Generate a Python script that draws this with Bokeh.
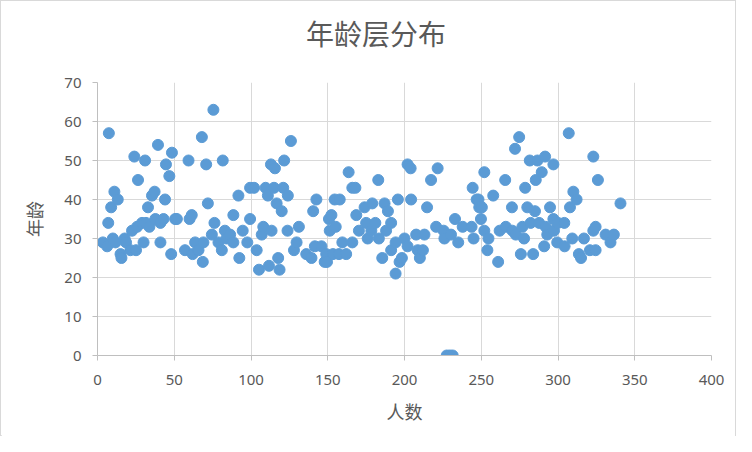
from bokeh.plotting import figure
from bokeh.models import ColumnDataSource, FixedTicker, Range1d, Div
from bokeh.layouts import column
from bokeh.embed import file_html
from bokeh.resources import INLINE

x_people = [3.5, 6.3, 7.4, 7, 8.9, 10, 11.7, 11, 13.2, 15, 15.6, 17.7, 18.6, 21.4, 22.5, 24, 25.1, 25.8, 26.4, 29,
            30, 31, 31.6, 32.9, 33.8, 35.5, 37.2, 37.7, 39.4, 41, 41, 43, 44, 44.6, 46.8, 48, 48.5, 50.6,
            51.7, 57, 59.3, 60, 61.4, 62, 63.6, 65.8, 68, 68.6, 69, 70.8, 71.9, 74.5, 75.5, 76.2, 78.8, 81, 81.6,
            83, 84, 86.4, 88.5, 88.5, 91.8, 92.4, 94.6, 97.6, 99.4, 99.4,
            102, 103.7, 105.2, 107, 108, 109.5, 111, 111.7, 113, 113.4, 115, 115.6, 116.7, 117.7, 118.6, 120, 121,
            121.6, 123.8, 124, 126, 128, 129.7, 131.2, 136, 139.4, 140.5, 141.6, 142.6, 145.9, 148,
            149, 149.5, 150.8, 151.3, 152.4, 153.4, 154.5, 155.2, 157.3, 157.8, 159.5, 162, 163.6, 166, 166, 168,
            168.6, 170.3, 174, 175, 176, 178.4, 179, 181, 182.9, 183.3, 185.5, 187, 188, 189.2, 191.3, 191.3, 194.2,
            194.2, 195.7, 196.8,
            198.3, 200, 202, 202, 204, 204.3, 207.6, 208.6, 210, 212, 213, 214.7, 217.3, 220.6, 221.6, 225.5, 226,
            227.5, 229.5, 230.3, 231.4, 232.9, 235, 237.9, 243.7, 244.4, 245, 247,
            248.2, 248.7, 249.8, 250.4, 252, 252, 254, 254.7, 257.8, 261, 262, 265.6, 266, 270, 270.3, 272, 272.5,
            274.7, 275.8, 276.8, 277.9, 278.6, 280, 281.6, 282.2, 283.8, 285, 285.5, 286.6, 287.7, 289.4, 291,
            291.6, 292, 293,
            294.8, 297, 297, 297.4, 299.5, 300, 304.1, 304.3, 307, 307.8, 309.3, 310, 312.1, 313.6, 315, 316.9,
            320.8, 323, 323, 324.5, 324.5, 326, 331, 334.2, 336.4, 340.7]

y_age = [29, 28, 57, 34, 38, 30, 29, 42, 40, 26, 25, 30, 29, 27, 32, 51, 27, 33, 45, 34,
         29, 50, 34, 38, 33, 41, 42, 35, 54, 34, 29, 35, 40, 49, 46, 26, 52, 35,
         35, 27, 50, 35, 36, 26, 29, 27, 56, 24, 29, 49, 39, 31, 63, 34, 29, 27, 50,
         32, 30, 31, 36, 29, 41, 25, 32, 29, 43, 35,
         43, 27, 22, 31, 33, 43, 41, 23, 49, 32, 43, 48, 39, 25, 22, 37, 43,
         50, 32, 41, 55, 27, 29, 33, 26, 25, 37, 28, 40, 28, 24,
         26, 24, 35, 32, 36, 26, 40, 33, 26, 40, 29, 26, 47, 43, 29, 43,
         36, 32, 38, 34, 30, 32, 39, 34, 45, 30, 25, 39, 32, 37, 34, 27, 29,
         21, 40, 24,
         25, 30, 49, 28, 48, 40, 31, 27, 25, 27, 31, 38, 45, 33, 48, 32, 30,
         0, 0, 31, 0, 35, 29, 33, 33, 43, 30, 40,
         40, 38, 35, 38, 47, 32, 27, 30, 41, 24, 32, 45, 33, 38, 32, 53, 31,
         56, 26, 33, 30, 43, 38, 50, 34, 26, 37, 45, 50, 34, 47, 28,
         51, 33, 31,
         38, 49, 35, 32, 29, 34, 34, 28, 57, 38, 30, 42, 40, 26, 25, 30,
         27, 51, 32, 33, 27, 45, 31, 29, 31, 39]

x_ticks = [0, 50, 100, 150, 200, 250, 300, 350, 400]
y_ticks = [0, 10, 20, 30, 40, 50, 60, 70]
chart_title = "年龄层分布"

src = ColumnDataSource(dict(x=x_people, y=y_age))

title_div = Div(text=chart_title, width=736, height=70, margin=0,
                styles={"font-family": "'Noto Sans CJK SC'", "font-size": "28px",
                        "color": "#595959", "line-height": "64px", "padding-left": "305px",
                        "background-color": "white", "box-sizing": "border-box"})

p = figure(width=736, height=366, output_backend="svg", toolbar_location=None,
           x_range=Range1d(0, 400), y_range=Range1d(0, 70),
           min_border_left=96, min_border_right=24, min_border_top=11, min_border_bottom=82)

p.scatter("x", "y", source=src, size=11, fill_color="#5b9bd5", line_color="#5b9bd5")

p.xaxis.ticker = FixedTicker(ticks=x_ticks)
p.yaxis.ticker = FixedTicker(ticks=y_ticks)
p.xaxis.axis_label = "人数"
p.yaxis.axis_label = "年龄"
for ax in (p.xaxis, p.yaxis):
    ax.axis_label_text_font = "Noto Sans CJK SC"
    ax.axis_label_text_font_size = "18px"
    ax.axis_label_text_font_style = "normal"
    ax.axis_label_text_color = "#595959"
    ax.major_label_text_font = "Noto Sans"
    ax.major_label_text_font_size = "15px"
    ax.major_label_text_color = "#595959"
    ax.axis_line_color = "#bfbfbf"
    ax.major_tick_line_color = "#bfbfbf"
    ax.major_tick_out = 5
    ax.major_tick_in = 0
    ax.minor_tick_line_color = None
p.xaxis.major_label_standoff = 14
p.yaxis.major_label_standoff = 11
p.xaxis.axis_label_standoff = 10
p.yaxis.axis_label_standoff = 14
p.yaxis.major_label_orientation = "horizontal"

p.xgrid.ticker = FixedTicker(ticks=x_ticks)
p.ygrid.ticker = FixedTicker(ticks=y_ticks)
p.grid.grid_line_color = "#d9d9d9"
p.grid.grid_line_width = 1
p.outline_line_color = None
p.background_fill_color = "white"
p.border_fill_color = "white"

layout = column(title_div, p, spacing=0, width=736, height=436,
                styles={"border": "1px solid #d9d9d9", "box-sizing": "border-box",
                        "background-color": "white"})

open("out.html", "w").write(file_html(layout, INLINE))
